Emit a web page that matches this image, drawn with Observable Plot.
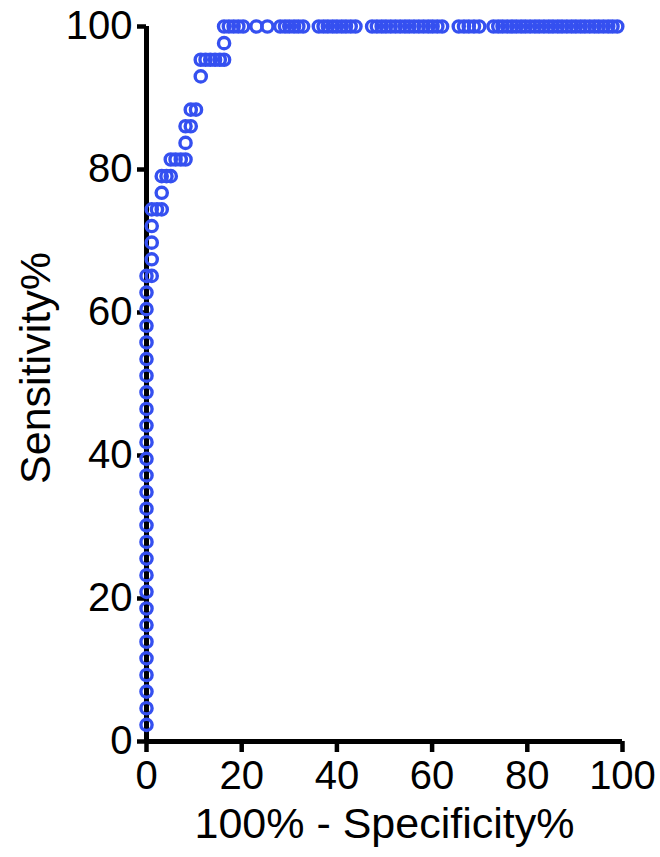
<!DOCTYPE html>
<html>
<head>
<meta charset="utf-8">
<script src="https://cdn.jsdelivr.net/npm/d3@7"></script>
<script src="https://cdn.jsdelivr.net/npm/@observablehq/plot@0.6"></script>
<style>
  html, body { margin: 0; padding: 0; background: #fff; }
  svg { display: block; }
</style>
</head>
<body>
<div id="chart"></div>
<script>
// ROC curve points (100% - Specificity%, Sensitivity%) below the top plateau
const fpr = [
  0, 0, 0, 0, 0, 0, 0, 0, 0, 0, 0, 0, 0, 0, 0, 0, 0, 0, 0, 0, 0, 0, 0, 0, 0, 0, 0, 0,
  1.1, 1.1, 1.1, 1.1,
  1.1, 2.2, 3.2,
  3.2,
  3.2, 4.2, 5.1,
  5.1, 6.1, 7.2, 8.2,
  8.2,
  8.2, 9.3,
  9.3, 10.4,
  11.4,
  11.4, 12.4, 13.4, 14.4, 15.4, 16.3,
  16.3
];
const sens = [
  2.33, 4.65, 6.98, 9.30, 11.63, 13.95, 16.28, 18.60, 20.93, 23.26, 25.58, 27.91, 30.23, 32.56,
  34.88, 37.21, 39.53, 41.86, 44.19, 46.51, 48.84, 51.16, 53.49, 55.81, 58.14, 60.47, 62.79, 65.12,
  65.12, 67.44, 69.77, 72.09,
  74.42, 74.42, 74.42,
  76.74,
  79.07, 79.07, 79.07,
  81.40, 81.40, 81.40, 81.40,
  83.72,
  86.05, 86.05,
  88.37, 88.37,
  93.02,
  95.35, 95.35, 95.35, 95.35, 95.35, 95.35,
  97.67
];
// Points on the 100% sensitivity plateau (x values)
const topFpr = [
  16.3, 17.3, 18.3, 19.3, 20.3,
  23.1, 25.4,
  28.1, 29.1, 30.0, 31.0, 31.9, 32.9,
  36.2, 37.2, 38.1, 39.1, 40.0, 41.0, 41.9, 42.9, 43.9,
  47.4, 48.4, 49.4, 50.3, 51.3, 52.3, 53.3, 54.3, 55.2, 56.2, 57.2, 58.2, 59.2, 60.1, 61.1, 62.1,
  65.6, 66.7, 67.7, 68.8, 69.9,
  72.9, 73.9, 74.8, 75.8, 76.8, 77.7, 78.7, 79.6, 80.6, 81.6, 82.5, 83.5, 84.5, 85.4,
  86.4, 87.3, 88.3, 89.3, 90.2, 91.2, 92.1, 93.1, 94.1, 95.0, 96.0, 97.0, 97.9, 98.9
];
const topSens = 100;
const xTicks = [0, 20, 40, 60, 80, 100];
const yTicks = [0, 20, 40, 60, 80, 100];
const xTitle = "100% - Specificity%";
const yTitle = "Sensitivity%";

const points = fpr.map((x, i) => ({fpr: x, sens: sens[i]}))
  .concat(topFpr.map(x => ({fpr: x, sens: topSens})));

const chart = Plot.plot({
  width: 660,
  height: 857,
  marginLeft: 146,
  marginRight: 38,
  marginTop: 26,
  marginBottom: 116,
  style: {fontFamily: "'Liberation Sans', Arial, sans-serif", color: "#000", background: "#fff", overflow: "visible"},
  x: {domain: [0, 100], ticks: xTicks},
  y: {domain: [0, 100], ticks: yTicks},
  marks: [
    Plot.axisX(xTicks, {tickSize: 11, strokeWidth: 4.5, tickPadding: 8, fontSize: 40, label: null}),
    Plot.axisY(yTicks, {tickSize: 9, strokeWidth: 4.5, tickPadding: 5, fontSize: 40, label: null}),
    Plot.ruleY([0], {stroke: "#000", strokeWidth: 5}),
    Plot.ruleX([0], {stroke: "#000", strokeWidth: 5}),
    Plot.dot(points, {x: "fpr", y: "sens", r: 5.6, stroke: "#3550f0", strokeWidth: 3.4, fill: "none"}),
    Plot.text([xTitle], {frameAnchor: "bottom", dy: 83, fontSize: 43, textAnchor: "middle", lineAnchor: "middle", fill: "#000"}),
    Plot.text([yTitle], {frameAnchor: "left", dx: -110, dy: -16, rotate: -90, fontSize: 43, textAnchor: "middle", lineAnchor: "middle", fill: "#000"})
  ]
});
document.getElementById("chart").appendChild(chart);
</script>
</body>
</html>
